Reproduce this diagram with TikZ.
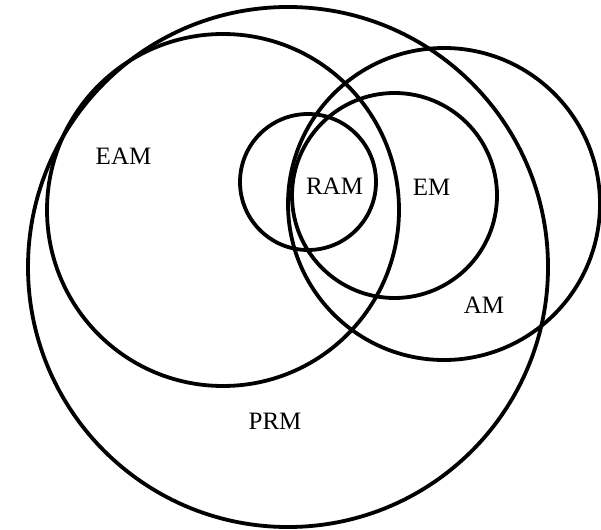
\documentclass[tikz,border=0pt]{standalone}
\usepackage{fontspec}
\setmainfont{Liberation Serif}
\begin{document}
\begin{tikzpicture}[x=1pt,y=-1pt,
  ring/.style={draw=black,line width=3.8pt},
  lbl/.style={font=\fontsize{25}{29}\selectfont,inner sep=0pt}]
\useasboundingbox[fill=white] (0,0) rectangle (601,529);
\draw[ring] (288,267) circle[radius=260];
\draw[ring] (223,210) circle[radius=176];
\draw[ring] (444,204) circle[radius=156];
\draw[ring] (394.5,195.5) circle[radius=102.5];
\draw[ring] (308,182) circle[radius=68];
\node[lbl] (eam) at (123.5,156.5) {EAM};
\node[lbl] (ram) at (334.5,186.5) {RAM};
\node[lbl] (em) at (431.5,187.5) {EM};
\node[lbl] (am) at (484,305) {AM};
\node[lbl] (prm) at (275,421) {PRM};
\end{tikzpicture}
\end{document}
